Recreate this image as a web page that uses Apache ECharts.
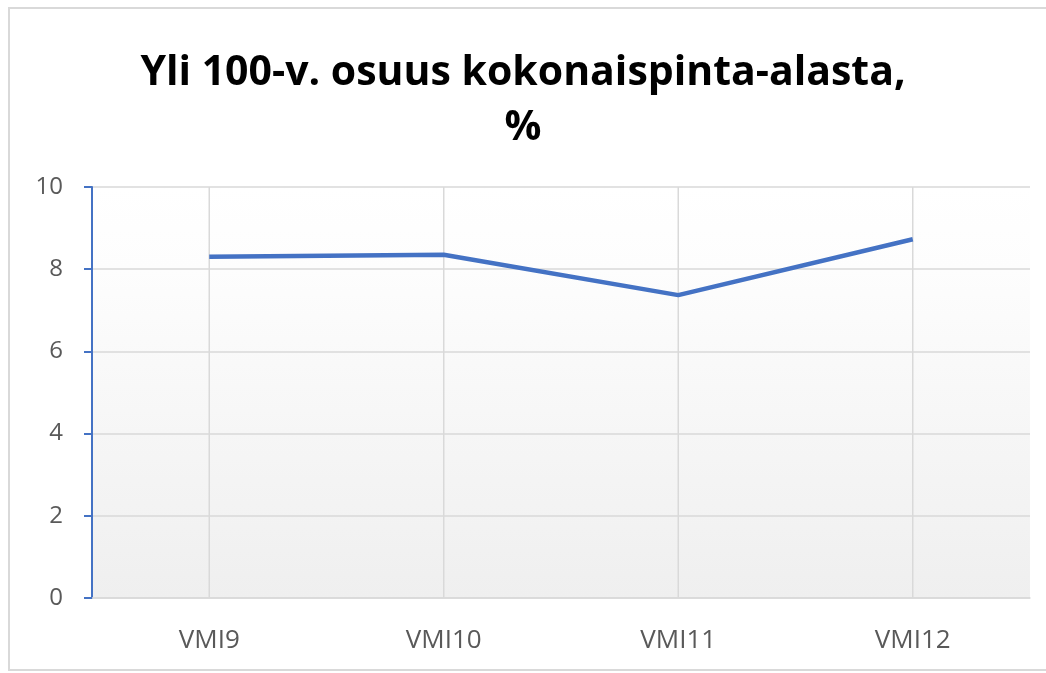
<!DOCTYPE html>
<html lang="fi">
<head>
    <meta charset="UTF-8">
    <script src="https://cdn.jsdelivr.net/npm/echarts@6/dist/echarts.min.js"></script>
    <title>Yli 100-v. osuus</title>
    <style>
        html, body { margin: 0; padding: 0; background: #fff; }
        #main { width: 1046px; height: 673px; }
    </style>
</head>
<body>
    <div id="main"></div>
    <script>
        var categories = ['VMI9', 'VMI10', 'VMI11', 'VMI12'];
        var osuus = [8.3, 8.35, 7.37, 8.73];
        var yTicks = [0, 10, 2];  // min, max, interval

        var chart = echarts.init(document.getElementById('main'));
        var option = {
            backgroundColor: '#fff',
            animation: false,
            graphic: [{
                type: 'rect',
                shape: { x: 9, y: 8, width: 1060, height: 662 },
                style: { fill: 'none', stroke: '#d9d9d9', lineWidth: 2 },
                silent: true
            }],
            title: {
                text: 'Yli 100-v. osuus kokonaispinta-alasta,\n%',
                left: 'center',
                top: 41,
                textStyle: {
                    fontFamily: 'Open Sans',
                    fontWeight: 'bold',
                    fontSize: 41,
                    lineHeight: 55,
                    color: '#000'
                }
            },
            grid: {
                left: 92,
                right: 16,
                top: 187,
                bottom: 75,
                show: true,
                borderWidth: 0,
                backgroundColor: {
                    type: 'linear', x: 0, y: 0, x2: 0, y2: 1,
                    colorStops: [
                        { offset: 0, color: '#ffffff' },
                        { offset: 0.2, color: '#fdfdfd' },
                        { offset: 1, color: '#efefef' }
                    ]
                }
            },
            xAxis: {
                type: 'category',
                data: categories,
                boundaryGap: true,
                axisLine: { lineStyle: { color: '#d9d9d9', width: 1.5 } },
                axisTick: { show: false },
                splitLine: { show: false },
                axisLabel: {
                    margin: 30,
                    fontFamily: 'Open Sans',
                    fontSize: 26,
                    color: '#595959'
                }
            },
            yAxis: {
                type: 'value',
                min: yTicks[0],
                max: yTicks[1],
                interval: yTicks[2],
                axisLine: { show: true, lineStyle: { color: '#4472c4', width: 2 } },
                axisTick: { show: true, length: 8, lineStyle: { color: '#4472c4', width: 2 } },
                splitLine: { lineStyle: { color: '#d9d9d9', width: 1.5 } },
                axisLabel: {
                    margin: 29,
                    fontFamily: 'Open Sans',
                    fontSize: 24,
                    color: '#595959'
                }
            },
            series: [
                {
                    // vertical gridlines at category centres
                    type: 'bar',
                    data: categories.map(function () { return 10; }),
                    barWidth: 1.5,
                    itemStyle: { color: '#d9d9d9' },
                    silent: true,
                    z: 1
                },
                {
                    type: 'line',
                    data: osuus,
                    symbol: 'none',
                    lineStyle: { color: '#4472c4', width: 4.5 },
                    z: 3
                }
            ]
        };
        chart.setOption(option);
    </script>
</body>
</html>
